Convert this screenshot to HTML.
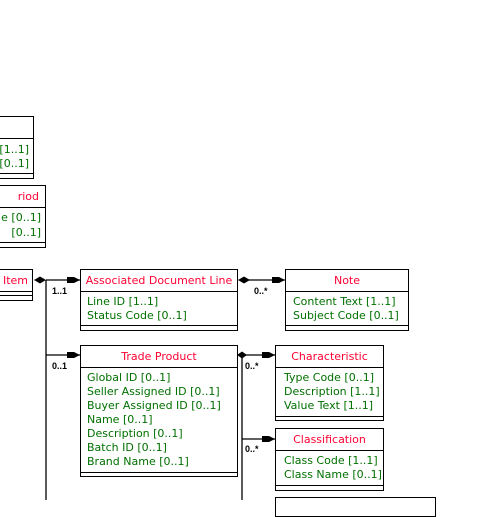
<!DOCTYPE html>
<html><head><style>
body{margin:0;width:500px;height:500px;background:#fff;position:relative;overflow:hidden;font-family:"DejaVu Sans","Liberation Sans",sans-serif;font-size:11px}
.b{position:absolute;border:1px solid #000;background:#fff;box-sizing:border-box}
.h{position:absolute;left:0;right:0;text-align:center;color:#ff0033;border-bottom:1px solid #000;line-height:21px;top:0;height:22px;box-sizing:border-box;white-space:nowrap}
.a{position:absolute;color:#007000;white-space:nowrap;line-height:14px}
.f{position:absolute;left:0;right:0;border-top:1px solid #000;height:4px}
.l{position:absolute;font-size:9px;color:#000;font-weight:bold;font-family:"Liberation Sans",sans-serif}
</style></head><body>
<svg width="500" height="500" style="position:absolute;left:0;top:0">
<g stroke="#000" stroke-width="1.3" fill="none">
<line x1="46" y1="280" x2="80" y2="280"/>
<line x1="46" y1="280" x2="46" y2="500"/>
<line x1="46" y1="355" x2="80" y2="355"/>
<line x1="246" y1="280" x2="285" y2="280"/>
<line x1="242" y1="355" x2="275" y2="355"/>
<line x1="242" y1="355" x2="242" y2="500"/>
<line x1="242" y1="439" x2="275" y2="439"/>
</g>
<g fill="#000">
<polygon points="34,280 40,276.5 46,280 40,283.5"/>
<polygon points="67,277 74,277 80,280 74,283 67,283"/>
<polygon points="67,352 74,352 80,355 74,358 67,358"/>
<polygon points="238,280 244,276.5 250,280 244,283.5"/>
<polygon points="272,277 279,277 285,280 279,283 272,283"/>
<polygon points="237,355 242,351.5 247,355 242,358.5"/>
<polygon points="262,352 269,352 275,355 269,358 262,358"/>
<polygon points="262,436 269,436 275,439 269,442 262,442"/>
</g>
</svg>

<div class="b" style="left:-60px;top:116px;width:94px;height:63px">
<div class="h"></div>
<div class="a" style="right:4px;top:26px">[1..1]</div>
<div class="a" style="right:4px;top:40px">[0..1]</div>
<div class="f" style="top:56px"></div></div>

<div class="b" style="left:-60px;top:185px;width:106px;height:63px">
<div class="h" style="text-align:right;padding-right:6px">riod</div>
<div class="a" style="right:4px;top:25px">e [0..1]</div>
<div class="a" style="right:4px;top:40px">[0..1]</div>
<div class="f" style="top:56px"></div></div>

<div class="b" style="left:-60px;top:269px;width:93px;height:32px">
<div class="h" style="text-align:right;padding-right:4px">Item</div>
<div class="f" style="top:25px"></div></div>

<div class="b" style="left:80px;top:269px;width:158px;height:62px">
<div class="h">Associated Document Line</div>
<div class="a" style="left:6px;top:25px">Line ID [1..1]</div>
<div class="a" style="left:6px;top:39px">Status Code [0..1]</div>
<div class="f" style="top:55px"></div></div>

<div class="b" style="left:285px;top:269px;width:124px;height:62px">
<div class="h">Note</div>
<div class="a" style="left:7px;top:25px">Content Text [1..1]</div>
<div class="a" style="left:7px;top:39px">Subject Code [0..1]</div>
<div class="f" style="top:55px"></div></div>

<div class="b" style="left:80px;top:345px;width:158px;height:132px">
<div class="h">Trade Product</div>
<div class="a" style="left:6px;top:25px">Global ID [0..1]</div>
<div class="a" style="left:6px;top:39px">Seller Assigned ID [0..1]</div>
<div class="a" style="left:6px;top:53px">Buyer Assigned ID [0..1]</div>
<div class="a" style="left:6px;top:67px">Name [0..1]</div>
<div class="a" style="left:6px;top:81px">Description [0..1]</div>
<div class="a" style="left:6px;top:95px">Batch ID [0..1]</div>
<div class="a" style="left:6px;top:109px">Brand Name [0..1]</div>
<div class="f" style="top:126px"></div></div>

<div class="b" style="left:275px;top:345px;width:109px;height:76px">
<div class="h">Characteristic</div>
<div class="a" style="left:8px;top:25px">Type Code [0..1]</div>
<div class="a" style="left:8px;top:39px">Description [1..1]</div>
<div class="a" style="left:8px;top:53px">Value Text [1..1]</div>
<div class="f" style="top:70px"></div></div>

<div class="b" style="left:275px;top:428px;width:109px;height:63px">
<div class="h">Classification</div>
<div class="a" style="left:8px;top:25px">Class Code [1..1]</div>
<div class="a" style="left:8px;top:39px">Class Name [0..1]</div>
<div class="f" style="top:56px"></div></div>

<div class="b" style="left:275px;top:497px;width:161px;height:20px"></div>

<div class="l" style="left:52px;top:286px">1..1</div>
<div class="l" style="left:52px;top:361px">0..1</div>
<div class="l" style="left:254px;top:286px">0..*</div>
<div class="l" style="left:245px;top:361px">0..*</div>
<div class="l" style="left:245px;top:444px">0..*</div>
</body></html>
